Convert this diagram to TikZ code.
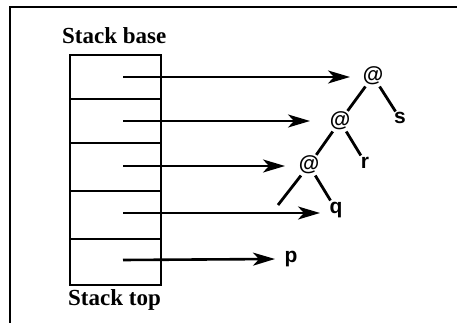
\documentclass[tikz,border=0pt]{standalone}
\usepackage{fontspec}
\setmainfont{Liberation Serif}
\newfontfamily\treefont{Liberation Sans}
\usetikzlibrary{arrows.meta}
\begin{document}
\begin{tikzpicture}[x=1pt,y=-1pt,
  frame/.style={line width=2.2pt},
  stackline/.style={line width=2pt},
  ptr/.style={line width=2.6pt,-{Stealth[length=22pt,width=13pt,inset=6pt]}},
  tedge/.style={line width=2.8pt},
  lbl/.style={font=\bfseries\fontsize{23}{26}\selectfont,inner sep=0pt,anchor=base west},
  tn/.style={font=\treefont\bfseries\fontsize{21}{24}\selectfont,inner sep=1pt,anchor=base}]
\useasboundingbox (0,0) rectangle (457,323);
\fill[white] (0,0) rectangle (457,323);
% frame (only top and left edges visible)
\draw[frame] (457,7) -- (10,7) -- (10,323);
% stack
\node[lbl] (base) at (62,44) {Stack base};
\node[lbl] (top) at (68,305) {Stack top};
\draw[stackline] (70,55) rectangle (161,285);
\foreach \y in {99,143,191,239} \draw[stackline] (70,\y) -- (161,\y);
\coordinate (c1) at (123,77);
\coordinate (c2) at (123,121);
\coordinate (c3) at (123,166);
\coordinate (c4) at (123,213);
\coordinate (c5) at (123,260);
% tree
\node[tn] (a1) at (373,82) {@};
\node[tn] (a2) at (340,127) {@};
\node[tn] (a3) at (309,171) {@};
\node[tn] (s) at (400,124) {s};
\node[tn] (r) at (365,168) {r};
\node[tn] (q) at (336,213) {q};
\node[tn] (p) at (291,262) {p};
\coordinate (lf) at (278,205);
% arrow ends
\coordinate (e1) at (350,77);
\coordinate (e2) at (310,121);
\coordinate (e3) at (285,166);
\coordinate (e4) at (320,213);
\coordinate (e5) at (275,259);
\draw[ptr] (c1) -- (e1);
\draw[ptr] (c2) -- (e2);
\draw[ptr] (c3) -- (e3);
\draw[ptr] (c4) -- (e4);
\draw[ptr] (c5) -- (e5);
% tree edges
\draw[tedge] (a1) -- (a2);
\draw[tedge] (a1) -- (s);
\draw[tedge] (a2) -- (a3);
\draw[tedge] (a2) -- (r);
\draw[tedge] (a3) -- (lf);
\draw[tedge] (a3) -- (q);
\end{tikzpicture}
\end{document}
